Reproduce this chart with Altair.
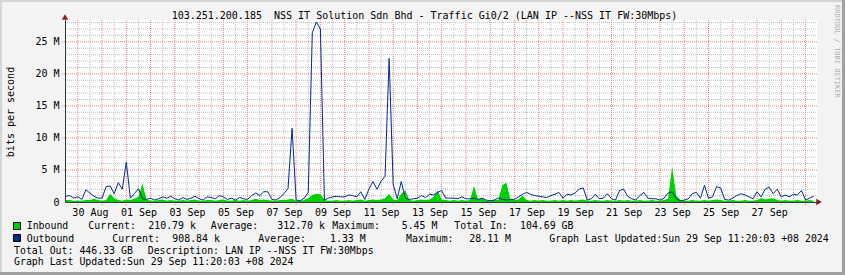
import altair as alt
import pandas as pd

# ---------------- data ----------------
series_start = "2024-08-29 12:00"   # first 4-hourly sample (UTC clock of the graph)
series_step = "4h"

outbound_mbit = [
    0.9, 1.0, 0.6, 0.8, 0.4, 1.9, 1.4, 0.9, 0.6, 0.6,
    2.4, 2.5, 1.3, 3.0, 2.0, 6.2, 0.6, 1.3, 2.1, 0.5,
    0.4, 0.6, 0.3, 0.5, 0.8, 0.6, 0.9, 0.5, 0.3, 0.7,
    0.4, 0.6, 0.9, 0.5, 0.3, 0.8, 0.7, 0.5, 1.0, 0.8,
    0.4, 0.6, 0.3, 0.7, 0.5, 0.4, 1.0, 1.4, 1.0, 1.6,
    1.6, 0.4, 0.3, 0.7, 1.3, 2.1, 11.5, 0.3, 0.2, 0.6,
    1.5, 26.4, 28.1, 27.0, 0.3, 0.6, 0.8, 0.9, 0.8, 0.8,
    1.1, 1.0, 0.8, 1.6, 0.4, 2.0, 3.2, 2.0, 3.2, 4.0,
    22.4, 2.8, 0.5, 3.2, 0.6, 0.4, 0.5, 0.6, 1.0, 0.7,
    1.2, 1.1, 1.5, 1.8, 0.6, 0.6, 0.6, 0.5, 0.8, 0.5,
    0.5, 0.6, 0.4, 0.6, 0.3, 0.2, 0.3, 0.6, 0.4, 0.3,
    0.4, 0.4, 0.8, 1.2, 1.5, 1.2, 1.0, 0.9, 0.8, 0.7,
    1.0, 1.2, 1.5, 0.6, 1.2, 1.1, 1.4, 2.0, 2.2, 0.3,
    0.5, 1.2, 0.5, 0.6, 1.3, 0.5, 0.3, 1.8, 2.0, 0.9,
    0.5, 0.3, 1.0, 1.5, 0.6, 0.5, 0.5, 0.3, 0.6, 1.4,
    1.6, 0.6, 0.2, 0.3, 0.5, 1.3, 1.5, 0.6, 2.6, 0.6,
    0.8, 2.4, 2.2, 0.4, 0.3, 0.6, 1.0, 1.3, 1.1, 0.8,
    0.5, 1.6, 0.8, 2.0, 2.3, 1.3, 2.0, 0.8, 1.1, 0.8,
    1.2, 1.1, 1.8, 0.3, 0.6, 0.9,
]

inbound_mbit = [
    0.3, 0.3, 0.2, 0.2, 0.2, 0.3, 0.3, 0.5, 0.3, 0.2,
    0.3, 1.3, 0.6, 0.3, 0.2, 0.4, 0.3, 0.5, 0.8, 2.9,
    0.4, 0.2, 0.2, 0.3, 0.4, 0.2, 0.3, 0.2, 0.2, 0.3,
    0.2, 0.3, 0.4, 0.2, 0.2, 0.3, 0.3, 0.2, 0.3, 0.4,
    0.2, 0.2, 0.3, 0.2, 0.3, 0.2, 0.3, 0.5, 0.3, 0.4,
    0.3, 0.2, 0.2, 0.3, 0.3, 0.4, 0.5, 0.2, 0.2, 0.3,
    0.6, 1.1, 1.3, 1.2, 0.3, 0.2, 0.2, 0.3, 0.2, 0.2,
    0.3, 0.2, 0.3, 0.4, 0.2, 0.3, 0.4, 0.3, 0.4, 0.6,
    1.3, 0.4, 0.3, 1.3, 1.8, 0.3, 0.2, 0.3, 0.4, 0.3,
    0.4, 0.8, 1.8, 0.4, 0.3, 0.2, 0.3, 0.2, 0.3, 0.2,
    0.3, 2.5, 0.4, 0.6, 0.2, 0.2, 0.3, 0.3, 2.6, 3.0,
    0.4, 0.3, 0.4, 1.0, 0.3, 0.2, 0.3, 0.2, 0.3, 0.2,
    0.2, 0.3, 0.2, 0.3, 0.2, 0.3, 0.2, 0.3, 0.4, 0.2,
    0.2, 0.3, 0.2, 0.2, 0.3, 0.2, 0.2, 0.3, 0.2, 0.3,
    0.2, 0.2, 0.3, 0.2, 0.2, 0.3, 0.2, 0.2, 0.3, 0.5,
    5.5, 1.0, 0.3, 0.2, 0.2, 0.3, 0.2, 0.2, 0.3, 0.2,
    0.3, 0.4, 0.3, 0.2, 0.2, 0.3, 0.2, 0.2, 0.3, 0.2,
    0.2, 0.3, 0.6, 0.4, 0.5, 0.6, 0.3, 0.2, 0.3, 0.2,
    0.2, 0.3, 0.2, 0.2, 0.3, 0.2,
]

title_text = "103.251.200.185 \u00a0NSS IT Solution Sdn Bhd - Traffic Gi0/2 (LAN IP --NSS IT FW:30Mbps)"
y_title = "bits per second"
watermark = "RRDTOOL / TOBI OETIKER"
y_tick_values_mbit = [0, 5, 10, 15, 20, 25]
x_label_days = ["2024-08-30", "2024-09-01", "2024-09-03", "2024-09-05", "2024-09-07",
                "2024-09-09", "2024-09-11", "2024-09-13", "2024-09-15", "2024-09-17",
                "2024-09-19", "2024-09-21", "2024-09-23", "2024-09-25", "2024-09-27"]
legend_row1 = ["Inbound", "Current:", "210.79 k", "Average:", "312.70 k", "Maximum:", "5.45 M",
               "Total In:", "104.69 GB"]
legend_row2 = ["Outbound", "Current:", "908.84 k", "Average:", "1.33 M", "Maximum:", "28.11 M",
               "Graph Last Updated:Sun 29 Sep 11:20:03 +08 2024"]
legend_row3 = ["Total Out: 446.33 GB", "Description: LAN IP --NSS IT FW:30Mbps"]
legend_row4 = ["Graph Last Updated:Sun 29 Sep 11:20:03 +08 2024"]

# ---------------- layout / style ----------------
W, H = 752, 182
PL, PT = 65, 20
FONT = "DejaVu Sans Mono"
BG = "#F3F3F3"
IN_COLOR = "#00CF00"
OUT_COLOR = "#002A97"
GRID_MINOR = "#BEBEBE"
GRID_MAJOR = "#EC8080"
AXIS_COLOR = "#2C3D33"
ARROW_COLOR = "#8B1A1A"
Y_MAX = 28.4e6
LEGEND_FS = 9.9

row1_x = [26.7, 88.3, 148.3, 210.7, 277.3, 332.3, 401.7, 454.3, 520]
row2_x = [26.7, 112.3, 172.3, 258.3, 330, 406, 469.3, 549.3]
row3_x = [14, 147.7]
row4_x = [14]
rows_y = [226.3, 238.5, 250.7, 262.2]

# ---------------- tables ----------------
times = pd.date_range(series_start, periods=len(outbound_mbit), freq=series_step)
tstr = [t.strftime("%Y-%m-%dT%H:%M:%SZ") for t in times]
df = pd.DataFrame({
    "t": tstr,
    "inb": [v * 1e6 for v in inbound_mbit],
    "outb": [v * 1e6 for v in outbound_mbit],
})

midnights = pd.date_range("2024-08-30", "2024-09-29", freq="1D")
noons = pd.date_range("2024-08-29 12:00", "2024-09-28 12:00", freq="1D")
df_major_v = pd.DataFrame({"t": [t.strftime("%Y-%m-%dT%H:%M:%SZ") for t in midnights]})
df_minor_v = pd.DataFrame({"t": [t.strftime("%Y-%m-%dT%H:%M:%SZ") for t in noons]})
df_major_h = pd.DataFrame({"v": [m * 1e6 for m in y_tick_values_mbit[1:]]})
df_minor_h = pd.DataFrame({"v": [m * 1e6 for m in range(1, 29) if m % 5 != 0]})

d0 = alt.DateTime(year=2024, month=8, date=29, hours=11, minutes=20, utc=True)
d1 = alt.DateTime(year=2024, month=9, date=29, hours=11, minutes=20, utc=True)
xscale = alt.Scale(type="utc", domain=[d0, d1])
yscale = alt.Scale(domain=[0, Y_MAX], nice=False, zero=True)

label_vals = []
for s in x_label_days:
    y_, m_, dd = [int(p) for p in s.split("-")]
    label_vals.append(alt.DateTime(year=y_, month=m_, date=dd, hours=12, utc=True))

x_axis = alt.Axis(values=label_vals, format="%d %b", title=None, ticks=False, grid=False,
                  domain=True, domainColor=AXIS_COLOR, domainWidth=1, labelFont=FONT, labelFontSize=10,
                  labelColor="black", labelPadding=5, labelOverlap=False, labelFlush=False,
                  labelBound=False, zindex=2)
y_axis = alt.Axis(values=[m * 1e6 for m in y_tick_values_mbit], title=None, ticks=False, grid=False,
                  domain=True, domainColor=AXIS_COLOR, domainWidth=1, labelFont=FONT, labelFontSize=10,
                  labelColor="black", labelPadding=6, labelOverlap=False,
                  labelExpr="datum.value == 0 ? '0\u00a0\u00a0' : (datum.value/1000000) + ' M'",
                  zindex=2)

X = lambda f: alt.X(f, scale=xscale, axis=x_axis)
Y = lambda f: alt.Y(f, scale=yscale, axis=y_axis)

minor_v = alt.Chart(df_minor_v).mark_rule(color=GRID_MINOR, strokeDash=[1, 1], strokeWidth=1).encode(
    x=X("t:T"), y=alt.value(0), y2=alt.value(H))
major_v = alt.Chart(df_major_v).mark_rule(color=GRID_MAJOR, strokeDash=[1, 1], strokeWidth=1).encode(
    x=X("t:T"), y=alt.value(0), y2=alt.value(H + 3))
minor_h = alt.Chart(df_minor_h).mark_rule(color=GRID_MINOR, strokeDash=[1, 1], strokeWidth=1).encode(
    y=Y("v:Q"), x=alt.value(0), x2=alt.value(W))
major_h = alt.Chart(df_major_h).mark_rule(color=GRID_MAJOR, strokeDash=[1, 1], strokeWidth=1).encode(
    y=Y("v:Q"), x=alt.value(-3), x2=alt.value(W))

area = alt.Chart(df).mark_area(color=IN_COLOR, opacity=1, interpolate="linear").encode(
    x=X("t:T"), y=Y("inb:Q"))
line = alt.Chart(df).mark_line(color=OUT_COLOR, strokeWidth=1, interpolate="linear").encode(
    x=X("t:T"), y=Y("outb:Q"))

ONE = pd.DataFrame({"k": [0]})


def txt(s, cx, cy, align="left", angle=0, size=10, color="black", baseline="middle"):
    return alt.Chart(ONE).mark_text(text=s, align=align, baseline=baseline, font=FONT,
                                    fontSize=size, color=color, angle=angle).encode(
        x=alt.value(cx - PL), y=alt.value(cy - PT))


def box(cx0, cy0, cx1, cy1, fill, stroke=None):
    kw = dict(fill=fill)
    if stroke:
        kw.update(stroke=stroke, strokeWidth=1)
    else:
        kw.update(strokeWidth=0)
    return alt.Chart(ONE).mark_rect(**kw).encode(
        x=alt.value(cx0 - PL), x2=alt.value(cx1 - PL), y=alt.value(cy0 - PT), y2=alt.value(cy1 - PT))


layers = [minor_v, minor_h, major_v, major_h, area, line]

# frame (3D border)
layers += [
    box(0, 0, 845, 2, "#D4D4D4"),
    box(0, 0, 2, 275, "#D4D4D4"),
    box(842, 0, 845, 275, "#A0A0A0"),
    box(0, 272, 845, 275, "#A0A0A0"),
]

# arrows
layers += [
    alt.Chart(ONE).mark_point(shape="triangle-up", filled=True, size=40, color=ARROW_COLOR, opacity=1).encode(
        x=alt.value(0), y=alt.value(-3)),
    alt.Chart(ONE).mark_point(shape="triangle-right", filled=True, size=40, color=ARROW_COLOR, opacity=1).encode(
        x=alt.value(W + 2), y=alt.value(H)),
]

# title, axis title, watermark
layers += [
    txt(title_text, 424.5, 15.5, align="center"),
    txt(y_title, 11, 112, align="center", angle=270),
    txt(watermark, 836.5, 5, align="left", angle=90, size=7, color="#B0B0B0"),
]

# legend
layers += [
    box(13.5, 222.5, 20.5, 229.5, IN_COLOR, "black"),
    box(13.5, 234.5, 20.5, 241.5, OUT_COLOR, "black"),
]
for row, xs, cy in [(legend_row1, row1_x, rows_y[0]), (legend_row2, row2_x, rows_y[1]),
                    (legend_row3, row3_x, rows_y[2]), (legend_row4, row4_x, rows_y[3])]:
    for s, cx in zip(row, xs):
        layers.append(txt(s, cx, cy, size=LEGEND_FS))

chart = alt.layer(*layers).properties(
    width=W, height=H,
    padding={"left": PL, "top": PT, "right": 845 - PL - W, "bottom": 275 - PT - H},
    autosize=alt.AutoSizeParams(type="none"),
).configure(background=BG).configure_view(fill="white", stroke=None)

chart.save("out.html", embed_options={"renderer": "svg", "actions": False})
